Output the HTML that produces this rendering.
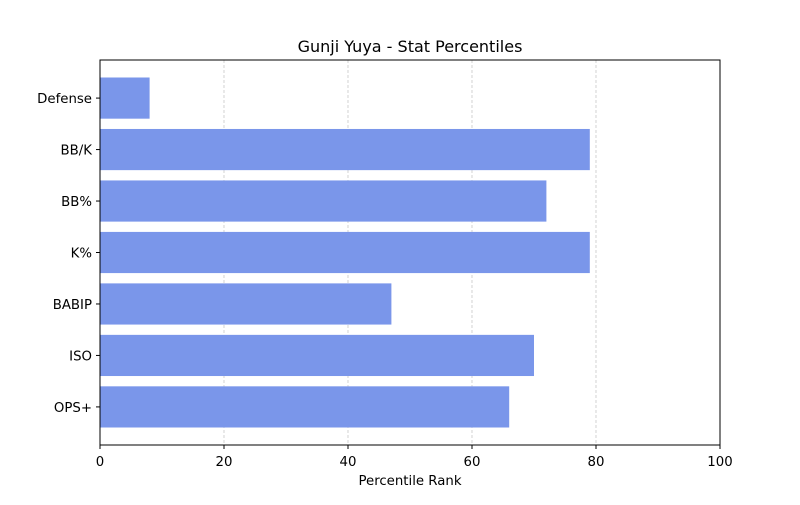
<!DOCTYPE html>
<html><head><meta charset="utf-8"><style>
body{margin:0;background:#fff;}
svg text{font-family:"DejaVu Sans","Liberation Sans",sans-serif;}
</style></head><body>
<svg id="chart" width="800" height="500">
<rect width="800" height="500" fill="#fff"/>
<text x="410" y="52" font-size="16" text-anchor="middle">Gunji Yuya - Stat Percentiles</text>
<g id="grid"></g><g id="bars"></g><g id="axes"></g>
<text x="410" y="485" font-size="13.3" text-anchor="middle">Percentile Rank</text>
</svg>
<script>
const categories=["OPS+","ISO","BABIP","K%","BB%","BB/K","Defense"];
const values=[66,70,47,79,72,79,8];
const xTicks=[0,20,40,60,80,100];
const L=100,R=720,T=60,B=445;
const ns="http://www.w3.org/2000/svg";
const x=v=>L+(v/100)*(R-L);
const yMin=-0.74,yMax=6.74;
const y=i=>B-(i-yMin)/(yMax-yMin)*(B-T);
const bh=0.8*(B-T)/(yMax-yMin);
function mk(t,a,p){const e=document.createElementNS(ns,t);for(const k in a)e.setAttribute(k,a[k]);p.appendChild(e);return e;}
const g=document.getElementById('grid'),bars=document.getElementById('bars'),ax=document.getElementById('axes');
xTicks.forEach(t=>{
 if(t>0&&t<100){const l=mk('line',{x1:x(t),x2:x(t),y1:T,y2:B,stroke:'#c8c8c8','stroke-width':0.8,'stroke-dasharray':'3,2'},g);
 
 }
 const tk=mk('line',{x1:x(t),x2:x(t),y1:B,y2:B+4,stroke:'#000'},ax);
 
 
 const tx=mk('text',{x:x(t),y:B+21,'font-size':13.3,'text-anchor':'middle'},ax);tx.textContent=t;
 
 
});
categories.forEach((c,i)=>{
 const r=mk('rect',{x:x(0),y:y(i)-bh/2,width:x(values[i])-x(0),height:bh,fill:'#7a96ea'},bars);
 
 
 const tk=mk('line',{x1:L-4,x2:L,y1:y(i),y2:y(i),stroke:'#000'},ax);
 
 
 const tx=mk('text',{x:L-8,y:y(i)+5,'font-size':13.3,'text-anchor':'end'},ax);tx.textContent=c;
 
 
});
const fr=mk('rect',{x:L,y:T,width:R-L,height:B-T,fill:'none',stroke:'#000','stroke-width':1},ax);


</script>
</body></html>
